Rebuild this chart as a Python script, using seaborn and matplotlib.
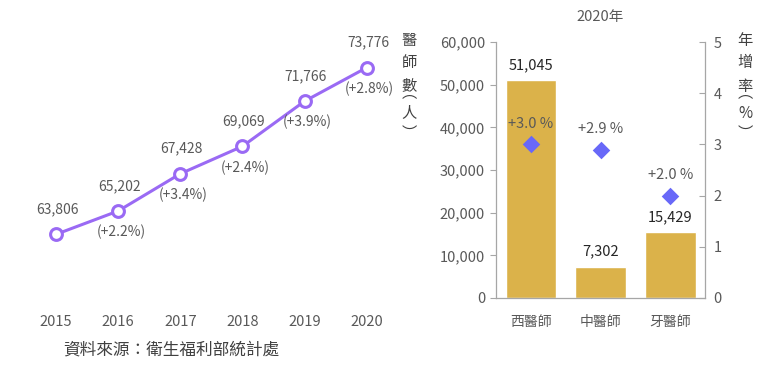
"""
醫師數趨勢與2020年各類醫師數比較
"""

import matplotlib
matplotlib.use("Agg")
import matplotlib.pyplot as plt
import seaborn as sns
import pandas as pd

# 資料
years = [2015, 2016, 2017, 2018, 2019, 2020]
doctors = [63806, 65202, 67428, 69069, 71766, 73776]
growth_labels = ["", "(+2.2%)", "(+3.4%)", "(+2.4%)", "(+3.9%)", "(+2.8%)"]

categories = ["西醫師", "中醫師", "牙醫師"]
counts_2020 = [51045, 7302, 15429]
growth_2020 = [3.0, 2.9, 2.0]

left_label = ["醫", "師", "數", "︵", "人", "︶"]
right_label = ["年", "增", "率", "︵", "%", "︶"]

LINE_COLOR = "#9A6AF4"
BAR_COLOR = "#DBB24A"
DIAMOND_COLOR = "#6868F8"
TEXT_GRAY = "#595959"
AXIS_GRAY = "#A6A6A6"

sns.set_theme(style="white")
plt.rcParams["font.family"] = ["Noto Sans CJK TC", "DejaVu Sans"]

fig = plt.figure(figsize=(7.79, 3.83), dpi=100)

# ---- 左圖：醫師數趨勢 ----
ax1 = fig.add_axes([0.04, 0.222, 0.465, 0.668])
line_df = pd.DataFrame({"year": years, "doctors": doctors})
sns.lineplot(data=line_df, x="year", y="doctors", ax=ax1, color=LINE_COLOR,
             linewidth=2.2, marker="o", markersize=8.5, markerfacecolor="white",
             markeredgecolor=LINE_COLOR, markeredgewidth=2.2)
ax1.set_xlim(2014.6, 2020.43)
ax1.set_ylim(60000, 75300)
ax1.set_xticks(years)
ax1.set_xticklabels([str(y) for y in years])
ax1.set_yticks([])
ax1.set_xlabel("")
ax1.set_ylabel("")
ax1.tick_params(axis="x", length=0, pad=12, labelsize=10.5, labelcolor=TEXT_GRAY)
for lbl in ax1.get_xticklabels():
    lbl.set_fontweight("medium")
for s in ax1.spines.values():
    s.set_visible(False)

for yr, val, lab in zip(years, doctors, growth_labels):
    ax1.annotate(f"{val:,}", (yr, val), xytext=(1, 13), textcoords="offset points",
                 ha="center", va="bottom", fontsize=10, color=TEXT_GRAY)
    if lab:
        ax1.annotate(lab, (yr, val), xytext=(2, -10), textcoords="offset points",
                     ha="center", va="top", fontsize=10, color=TEXT_GRAY)

# ---- 右圖：2020年各類醫師 ----
ax2 = fig.add_axes([0.637, 0.222, 0.268, 0.668])
bar_df = pd.DataFrame({"category": categories, "count": counts_2020})
sns.barplot(data=bar_df, x="category", y="count", ax=ax2, color=BAR_COLOR,
            width=0.73, saturation=1)
ax2.set_xlim(-0.5, 2.5)
ax2.set_ylim(0, 60000)
ax2.set_yticks(range(0, 60001, 10000))
ax2.set_yticklabels([f"{v:,}" for v in range(0, 60001, 10000)])
ax2.set_xlabel("")
ax2.set_ylabel("")
ax2.set_xticks([-0.5, 0.5, 1.5, 2.5], minor=True)
ax2.tick_params(axis="x", which="major", length=0, pad=12, labelsize=10, labelcolor=TEXT_GRAY)
ax2.tick_params(axis="x", which="minor", length=4, width=0.8, color=AXIS_GRAY, direction="out")
ax2.tick_params(axis="y", length=4, width=0.8, color=AXIS_GRAY, direction="out",
                labelsize=10.5, labelcolor=TEXT_GRAY, left=True, pad=4)
ax2.spines["top"].set_visible(False)
ax2.spines["right"].set_visible(False)
for side in ["left", "bottom"]:
    ax2.spines[side].set_color(AXIS_GRAY)
    ax2.spines[side].set_linewidth(0.9)

for i, val in enumerate(counts_2020):
    ax2.annotate(f"{val:,}", (i, val), xytext=(0, 6), textcoords="offset points",
                 ha="center", va="bottom", fontsize=10.5, color="#262626")

ax3 = ax2.twinx()
sns.scatterplot(x=list(range(len(categories))), y=growth_2020, ax=ax3, marker="D",
                s=80, color=DIAMOND_COLOR, edgecolor=DIAMOND_COLOR, linewidth=0, zorder=5)
ax3.set_ylim(0, 5)
ax3.set_yticks(range(0, 6))
ax3.set_ylabel("")
ax3.tick_params(axis="y", length=4, width=0.8, color=AXIS_GRAY, direction="in",
                labelsize=10.5, labelcolor=TEXT_GRAY, right=True, pad=6)
ax3.spines["top"].set_visible(False)
ax3.spines["left"].set_visible(False)
ax3.spines["bottom"].set_visible(False)
ax3.spines["right"].set_color(AXIS_GRAY)
ax3.spines["right"].set_linewidth(0.9)
for i, g in enumerate(growth_2020):
    ax3.annotate(f"+{g:.1f} %", (i, g), xytext=(0, 10), textcoords="offset points",
                 ha="center", va="bottom", fontsize=10.5, color=TEXT_GRAY)

# ---- 文字 ----
fig.text(600 / 779, 1 - 17 / 383, "2020年", ha="center", va="center",
         fontsize=10.5, color=TEXT_GRAY)
# 直排標籤（括號用直排字形，其字形在字框內偏移，故位置另外調整）
char_rows = [40, 63, 86, 93, 113, 133]
for x_px, chars in [(409, left_label), (745, right_label)]:
    for ch, yp in zip(chars, char_rows):
        fig.text(x_px / 779, 1 - yp / 383, ch, ha="center", va="center",
                 fontsize=11, color="#404040")
fig.text(63 / 779, 1 - 350 / 383, "資料來源：衛生福利部統計處", ha="left", va="center",
         fontsize=12, color="#404040")

fig.savefig("out.png", dpi=100, facecolor="white")
